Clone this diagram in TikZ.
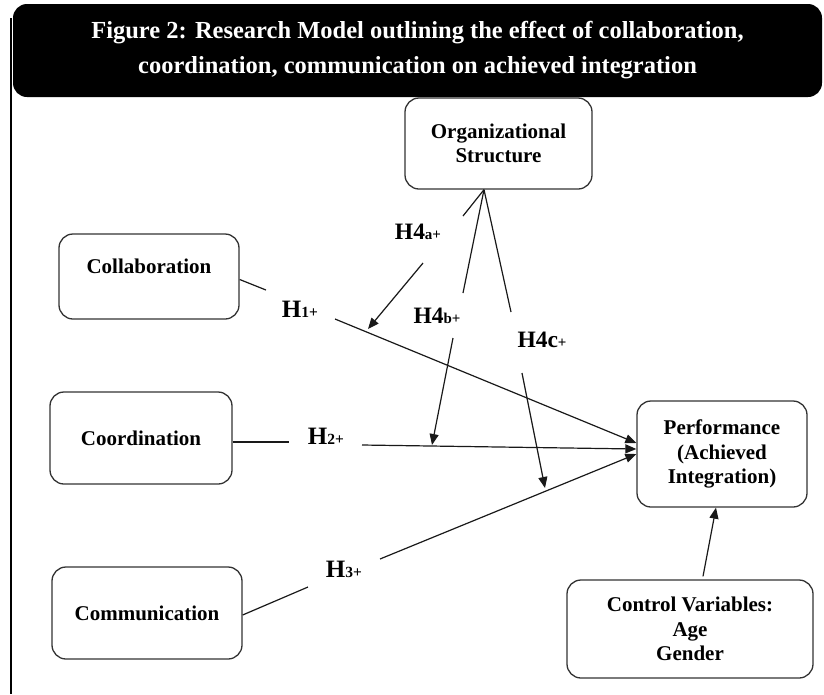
\documentclass[tikz,border=0pt]{standalone}
\usepackage{fontspec}
\setmainfont{Liberation Serif}
\usetikzlibrary{arrows.meta}
\begin{document}
\begin{tikzpicture}[x=1pt,y=-1pt,
  box/.style={draw=black!80, line width=1.3pt, rounded corners=14pt, inner sep=0pt,
    font=\fontsize{21}{24.5}\selectfont\bfseries, align=center},
  boxtext/.style={font=\fontsize{21}{24.5}\selectfont\bfseries, align=center, inner sep=0pt},
  hlab/.style={font=\fontsize{25}{27}\selectfont\bfseries, inner sep=1pt},
  hfour/.style={font=\fontsize{23.5}{25}\selectfont\bfseries, inner sep=1pt},
  conn/.style={line width=1.2pt, draw=black!90},
  arr/.style={conn, -{Triangle[length=11pt,width=9pt]}},
]
\useasboundingbox (0,0) rectangle (824,694);

% frame line and title
\draw[line width=1.2pt] (11,18) -- (11,694);
\node[fill=black, rounded corners=14pt, minimum width=809pt, minimum height=93pt,
      text=white, font=\fontsize{24.5}{35}\selectfont\bfseries, align=center, inner sep=0pt]
  (title) at (417.5,50.5)
  {Figure 2: Research Model outlining the effect of collaboration,\\
   coordination, communication on achieved integration};

% boxes
\node[box, minimum width=187pt, minimum height=91pt] (org) at (498.5,143.5)
  {Organizational\\Structure};
\node[box, minimum width=180pt, minimum height=85pt] (collab) at (149,276.5) {};
\node[boxtext] (collabtext) at (149,266) {Collaboration};
\node[box, minimum width=182pt, minimum height=92pt] (coord) at (141,438) {Coordination};
\node[box, minimum width=190pt, minimum height=92pt] (comm) at (147,613) {Communication};
\node[box, minimum width=170pt, minimum height=106pt] (perf) at (722,454)
  {Performance\\(Achieved\\Integration)};
\node[box, minimum width=246pt, minimum height=98pt] (ctrl) at (690,629)
  {Control Variables:\\Age\\Gender};

% hypothesis labels
\node[hlab] (h1) at (300,309) {H{\fontsize{15.5}{15.5}\selectfont 1+}};
\node[hlab] (h2) at (326,436) {H{\fontsize{15.5}{15.5}\selectfont 2+}};
\node[hlab] (h3) at (344,569) {H{\fontsize{15.5}{15.5}\selectfont 3+}};
\node[hfour] (h4a) at (418,232) {H4{\fontsize{15}{15}\selectfont a+}};
\node[hfour] (h4b) at (437,316) {H4{\fontsize{15}{15}\selectfont b+}};
\node[hfour] (h4c) at (542,340) {H4c{\fontsize{15}{15}\selectfont +}};

% break points
\coordinate (a1) at (266,290);
\coordinate (a2) at (335,319);
\coordinate (b1) at (289,442);
\coordinate (b2) at (362,445);
\coordinate (d1) at (308,587);
\coordinate (d2) at (380,559);
\coordinate (apex) at ([xshift=-14.5pt]org.south);
\coordinate (c1) at (463,216);
\coordinate (c2) at (423,263);
\coordinate (c3) at (368,329);
\coordinate (e1) at (463,293);
\coordinate (e2) at (453,338);
\coordinate (e3) at (432,445);
\coordinate (f1) at (511,312);
\coordinate (f2) at (522,373);
\coordinate (f3) at (545,488);

% main paths
\draw[conn] ([yshift=-3pt]collab.east) -- (a1);
\draw[arr] (a2) -- ([yshift=11pt]perf.west);
\draw[conn] ([yshift=-4pt]coord.east) -- (b1);
\draw[arr] (b2) -- ([yshift=5pt]perf.west);
\draw[conn] ([yshift=-2pt]comm.east) -- (d1);
\draw[arr] (d2) -- (perf.west);
\draw[arr] ([xshift=13pt,yshift=3pt]ctrl.north) -- ([xshift=-6pt]perf.south);

% moderation
\draw[conn] (apex) -- (c1);
\draw[arr] (c2) -- (c3);
\draw[conn] (apex) -- (e1);
\draw[arr] (e2) -- (e3);
\draw[conn] (apex) -- (f1);
\draw[arr] (f2) -- (f3);
\end{tikzpicture}
\end{document}
